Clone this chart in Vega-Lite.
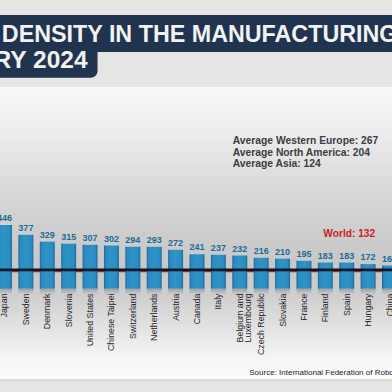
{
  "$schema": "https://vega.github.io/schema/vega-lite/v6.json",
  "width": 392,
  "height": 392,
  "autosize": "none",
  "padding": 0,
  "background": "#e5e5e3",
  "config": {"view": {"stroke": null}, "text": {"font": "Liberation Sans"}},
  "datasets": {
    "robots": [
      {"country": "Japan", "label": "Japan", "value": 446},
      {"country": "Sweden", "label": "Sweden", "value": 377},
      {"country": "Denmark", "label": "Denmark", "value": 329},
      {"country": "Slovenia", "label": "Slovenia", "value": 315},
      {"country": "United States", "label": "United States", "value": 307},
      {"country": "Chinese Taipei", "label": "Chinese Taipei", "value": 302},
      {"country": "Switzerland", "label": "Switzerland", "value": 294},
      {"country": "Netherlands", "label": "Netherlands", "value": 293},
      {"country": "Austria", "label": "Austria", "value": 272},
      {"country": "Canada", "label": "Canada", "value": 241},
      {"country": "Italy", "label": "Italy", "value": 237},
      {"country": "Belgium and Luxembourg", "label": "Belgium and\nLuxembourg", "value": 232},
      {"country": "Czech Republic", "label": "Czech Republic", "value": 216},
      {"country": "Slovakia", "label": "Slovakia", "value": 210},
      {"country": "France", "label": "France", "value": 195},
      {"country": "Finland", "label": "Finland", "value": 183},
      {"country": "Spain", "label": "Spain", "value": 183},
      {"country": "Hungary", "label": "Hungary", "value": 172},
      {"country": "China", "label": "China", "value": 162}
    ]
  },
  "layer": [
    {
      "data": {"values": [{}]},
      "mark": {"type": "rect", "fill": {"x1": 0, "y1": 0, "x2": 0, "y2": 1, "gradient": "linear", "stops": [
        {"offset": 0, "color": "#f8f8f8"},
        {"offset": 0.15, "color": "#ededed"},
        {"offset": 0.32, "color": "#dcdcdc"},
        {"offset": 0.49, "color": "#cdcdcd"},
        {"offset": 0.62, "color": "#c7c7c7"},
        {"offset": 0.71, "color": "#cecece"},
        {"offset": 0.83, "color": "#e4e4e4"},
        {"offset": 0.93, "color": "#f6f6f6"},
        {"offset": 1, "color": "#fbfbfb"}]}},
      "encoding": {
        "y": {"datum": 1411.5, "type": "quantitative", "scale": {"domain": [-723, 2020], "nice": false, "zero": false}, "axis": null},
        "y2": {"datum": -639}
      }
    },
    {
      "data": {"values": [{}]},
      "mark": {"type": "rule", "stroke": "#d0d0ce", "strokeWidth": 1.5},
      "encoding": {
        "y": {"datum": -639, "type": "quantitative", "scale": {"domain": [-723, 2020], "nice": false, "zero": false}, "axis": null}
      }
    },
    {
      "data": {"values": [{}]},
      "mark": {"type": "rect", "fill": "#20344f"},
      "encoding": {
        "y": {"datum": 1915, "type": "quantitative", "scale": {"domain": [-723, 2020], "nice": false, "zero": false}, "axis": null},
        "y2": {"datum": 1656}
      }
    },
    {
      "data": {"values": [{}]},
      "mark": {"type": "rect", "fill": "#20344f", "cornerRadiusBottomRight": 7},
      "encoding": {
        "x": {"datum": "Japan", "type": "nominal", "bandPosition": 0, "axis": null, "scale": {"domain": ["Japan","Sweden","Denmark","Slovenia","United States","Chinese Taipei","Switzerland","Netherlands","Austria","Canada","Italy","Belgium and Luxembourg","Czech Republic","Slovakia","France","Finland","Spain","Hungary","China"], "range": [-6.2, 400.2], "paddingInner": 0.3, "paddingOuter": 0.15}},
        "x2": {"datum": "United States", "bandPosition": 1},
        "y": {"datum": 1700, "type": "quantitative", "scale": {"domain": [-723, 2020], "nice": false, "zero": false}, "axis": null},
        "y2": {"datum": 1476.6}
      }
    },
    {
      "data": {"values": [{}]},
      "mark": {"type": "text", "text": "ROBOT DENSITY IN THE MANUFACTURING", "align": "right", "baseline": "alphabetic", "dx": 8, "fontSize": 23.3, "fontWeight": "bold", "fill": "#f2f2f2"},
      "encoding": {
        "x": {"datum": "China", "type": "nominal", "axis": null, "scale": {"domain": ["Japan","Sweden","Denmark","Slovenia","United States","Chinese Taipei","Switzerland","Netherlands","Austria","Canada","Italy","Belgium and Luxembourg","Czech Republic","Slovakia","France","Finland","Spain","Hungary","China"], "range": [-6.2, 400.2], "paddingInner": 0.3, "paddingOuter": 0.15}},
        "y": {"datum": 1726.4, "type": "quantitative", "scale": {"domain": [-723, 2020], "nice": false, "zero": false}, "axis": null}
      }
    },
    {
      "data": {"values": [{}]},
      "mark": {"type": "text", "text": "INDUSTRY 2024", "align": "right", "baseline": "alphabetic", "dx": -2.5, "fontSize": 24.5, "fontWeight": "bold", "fill": "#f2f2f2"},
      "encoding": {
        "x": {"datum": "United States", "type": "nominal", "axis": null, "scale": {"domain": ["Japan","Sweden","Denmark","Slovenia","United States","Chinese Taipei","Switzerland","Netherlands","Austria","Canada","Italy","Belgium and Luxembourg","Czech Republic","Slovakia","France","Finland","Spain","Hungary","China"], "range": [-6.2, 400.2], "paddingInner": 0.3, "paddingOuter": 0.15}},
        "y": {"datum": 1544.4, "type": "quantitative", "scale": {"domain": [-723, 2020], "nice": false, "zero": false}, "axis": null}
      }
    },
    {
      "data": {"values": [{}]},
      "mark": {"type": "rule", "stroke": "#d22b26", "strokeWidth": 1.5, "yOffset": 1.8},
      "encoding": {
        "y": {"datum": 132, "type": "quantitative", "scale": {"domain": [-723, 2020], "nice": false, "zero": false}, "axis": null}
      }
    },
    {
      "data": {"name": "robots"},
      "mark": {"type": "bar", "fill": {"x1": 0, "y1": 0, "x2": 0, "y2": 1, "gradient": "linear", "stops": [
        {"offset": 0, "color": "rgba(80,80,80,0.35)"},
        {"offset": 1, "color": "rgba(80,80,80,0)"}]}},
      "encoding": {
        "x": {"field": "country", "type": "nominal", "axis": null, "scale": {"domain": ["Japan","Sweden","Denmark","Slovenia","United States","Chinese Taipei","Switzerland","Netherlands","Austria","Canada","Italy","Belgium and Luxembourg","Czech Republic","Slovakia","France","Finland","Spain","Hungary","China"], "range": [-6.2, 400.2], "paddingInner": 0.3, "paddingOuter": 0.15}},
        "y": {"datum": 0, "type": "quantitative", "scale": {"domain": [-723, 2020], "nice": false, "zero": false}, "axis": null},
        "y2": {"datum": -40}
      }
    },
    {
      "data": {"name": "robots"},
      "mark": {"type": "bar", "fill": {"x1": 0, "y1": 0, "x2": 1, "y2": 0, "gradient": "linear", "stops": [
        {"offset": 0, "color": "#1b6a9a"},
        {"offset": 0.14, "color": "#2a8cc1"},
        {"offset": 0.5, "color": "#2f93c8"},
        {"offset": 0.86, "color": "#2a8cc1"},
        {"offset": 1, "color": "#1b6a9a"}]}},
      "encoding": {
        "x": {"field": "country", "type": "nominal", "axis": null, "scale": {"domain": ["Japan","Sweden","Denmark","Slovenia","United States","Chinese Taipei","Switzerland","Netherlands","Austria","Canada","Italy","Belgium and Luxembourg","Czech Republic","Slovakia","France","Finland","Spain","Hungary","China"], "range": [-6.2, 400.2], "paddingInner": 0.3, "paddingOuter": 0.15}},
        "y": {"field": "value", "type": "quantitative", "scale": {"domain": [-723, 2020], "nice": false, "zero": false}, "axis": null}
      }
    },
    {
      "data": {"values": [{}]},
      "mark": {"type": "rule", "stroke": "#0f1726", "strokeWidth": 2.7},
      "encoding": {
        "y": {"datum": 132, "type": "quantitative", "scale": {"domain": [-723, 2020], "nice": false, "zero": false}, "axis": null}
      }
    },
    {
      "data": {"name": "robots"},
      "mark": {"type": "text", "align": "center", "baseline": "alphabetic", "dy": -4, "fontSize": 9, "fontWeight": "bold", "fill": "#1d6b97"},
      "encoding": {
        "x": {"field": "country", "type": "nominal", "axis": null, "scale": {"domain": ["Japan","Sweden","Denmark","Slovenia","United States","Chinese Taipei","Switzerland","Netherlands","Austria","Canada","Italy","Belgium and Luxembourg","Czech Republic","Slovakia","France","Finland","Spain","Hungary","China"], "range": [-6.2, 400.2], "paddingInner": 0.3, "paddingOuter": 0.15}},
        "y": {"field": "value", "type": "quantitative", "scale": {"domain": [-723, 2020], "nice": false, "zero": false}, "axis": null},
        "text": {"field": "value"}
      }
    },
    {
      "data": {"name": "robots"},
      "mark": {"type": "text", "angle": 270, "align": "right", "baseline": "middle", "fontSize": 8.8, "fill": "#262626", "lineBreak": "\n", "lineHeight": 8.5},
      "encoding": {
        "x": {"field": "country", "type": "nominal", "axis": null, "scale": {"domain": ["Japan","Sweden","Denmark","Slovenia","United States","Chinese Taipei","Switzerland","Netherlands","Austria","Canada","Italy","Belgium and Luxembourg","Czech Republic","Slovakia","France","Finland","Spain","Hungary","China"], "range": [-6.2, 400.2], "paddingInner": 0.3, "paddingOuter": 0.15}},
        "y": {"datum": -33.6, "type": "quantitative", "scale": {"domain": [-723, 2020], "nice": false, "zero": false}, "axis": null},
        "text": {"field": "label"}
      }
    },
    {
      "data": {"values": [{}]},
      "mark": {"type": "text", "text": ["Average Western Europe: 267", "Average North America: 204", "Average Asia: 124"], "align": "left", "baseline": "alphabetic", "dx": -7, "fontSize": 10.3, "fontWeight": "bold", "fill": "#3a3d42", "lineHeight": 11.7},
      "encoding": {
        "x": {"datum": "Belgium and Luxembourg", "type": "nominal", "axis": null, "scale": {"domain": ["Japan","Sweden","Denmark","Slovenia","United States","Chinese Taipei","Switzerland","Netherlands","Austria","Canada","Italy","Belgium and Luxembourg","Czech Republic","Slovakia","France","Finland","Spain","Hungary","China"], "range": [-6.2, 400.2], "paddingInner": 0.3, "paddingOuter": 0.15}},
        "y": {"datum": 1012.6, "type": "quantitative", "scale": {"domain": [-723, 2020], "nice": false, "zero": false}, "axis": null}
      }
    },
    {
      "data": {"values": [{}]},
      "mark": {"type": "text", "text": "World: 132", "align": "center", "baseline": "alphabetic", "dx": 2.5, "fontSize": 10.2, "fontWeight": "bold", "fill": "#c9231f"},
      "encoding": {
        "x": {"datum": "Spain", "type": "nominal", "axis": null, "scale": {"domain": ["Japan","Sweden","Denmark","Slovenia","United States","Chinese Taipei","Switzerland","Netherlands","Austria","Canada","Italy","Belgium and Luxembourg","Czech Republic","Slovakia","France","Finland","Spain","Hungary","China"], "range": [-6.2, 400.2], "paddingInner": 0.3, "paddingOuter": 0.15}},
        "y": {"datum": 359.7, "type": "quantitative", "scale": {"domain": [-723, 2020], "nice": false, "zero": false}, "axis": null}
      }
    },
    {
      "data": {"values": [{}]},
      "mark": {"type": "text", "text": "Source: International Federation of Robotics", "align": "left", "baseline": "alphabetic", "dx": 9.5, "fontSize": 8, "fill": "#1e1e1e"},
      "encoding": {
        "x": {"datum": "Belgium and Luxembourg", "type": "nominal", "axis": null, "scale": {"domain": ["Japan","Sweden","Denmark","Slovenia","United States","Chinese Taipei","Switzerland","Netherlands","Austria","Canada","Italy","Belgium and Luxembourg","Czech Republic","Slovakia","France","Finland","Spain","Hungary","China"], "range": [-6.2, 400.2], "paddingInner": 0.3, "paddingOuter": 0.15}},
        "y": {"datum": -606, "type": "quantitative", "scale": {"domain": [-723, 2020], "nice": false, "zero": false}, "axis": null}
      }
    }
  ]
}
